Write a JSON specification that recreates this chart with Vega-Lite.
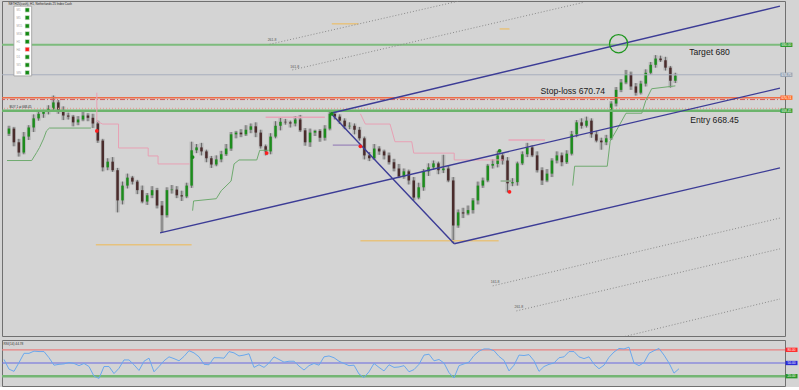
{
"$schema":"https://vega.github.io/schema/vega-lite/v6.json",
"background":"#d4d4d4",
"padding":0,
"spacing":2,
"config":{"view":{"stroke":"#707070","strokeWidth":1},"font":"Liberation Sans","axis":{"grid":false,"domainColor":"#606060","tickColor":"#606060","labelColor":"#303030","labelFontSize":3.5,"tickSize":2,"labelPadding":1}},
"datasets":{
"candles":[
{"i":0,"o":664.4,"h":665.8,"l":664.0,"c":665.3},{"i":1,"o":665.3,"h":665.6,"l":662.2,"c":662.9},{"i":2,"o":662.9,"h":663.5,"l":660.4,"c":661.1},{"i":3,"o":661.1,"h":664.7,"l":660.8,"c":663.9},{"i":4,"o":663.9,"h":665.9,"l":663.3,"c":665.5},{"i":5,"o":665.5,"h":667.8,"l":664.7,"c":667.1},{"i":6,"o":667.1,"h":668.4,"l":666.7,"c":667.9},{"i":7,"o":667.9,"h":668.6,"l":667.2,"c":668.3},{"i":8,"o":668.3,"h":669.4,"l":667.8,"c":668.8},{"i":9,"o":668.8,"h":671.1,"l":668.5,"c":669.9},
{"i":10,"o":669.9,"h":670.3,"l":667.9,"c":668.5},{"i":11,"o":668.5,"h":669.2,"l":666.8,"c":667.6},{"i":12,"o":667.6,"h":668.1,"l":666.9,"c":667.4},{"i":13,"o":667.4,"h":667.7,"l":665.7,"c":666.4},{"i":14,"o":666.4,"h":667.5,"l":665.9,"c":666.9},{"i":15,"o":666.9,"h":668.4,"l":666.6,"c":667.6},{"i":16,"o":667.6,"h":668.0,"l":666.6,"c":667.2},{"i":17,"o":667.2,"h":667.9,"l":665.4,"c":666.2},{"i":18,"o":666.2,"h":666.7,"l":662.8,"c":663.2},{"i":19,"o":663.2,"h":663.5,"l":657.8,"c":658.5},
{"i":20,"o":658.5,"h":660.1,"l":658.0,"c":659.5},{"i":21,"o":659.5,"h":660.3,"l":657.7,"c":658.0},{"i":22,"o":658.0,"h":658.4,"l":650.6,"c":652.7},{"i":23,"o":652.7,"h":656.0,"l":652.0,"c":655.3},{"i":24,"o":655.3,"h":657.4,"l":654.8,"c":656.7},{"i":25,"o":656.7,"h":657.0,"l":655.5,"c":656.0},{"i":26,"o":656.0,"h":656.3,"l":653.8,"c":654.5},{"i":27,"o":654.5,"h":655.3,"l":652.2,"c":652.5},{"i":28,"o":652.5,"h":654.0,"l":651.9,"c":653.6},{"i":29,"o":653.6,"h":655.2,"l":653.1,"c":654.5},
{"i":30,"o":654.5,"h":654.9,"l":651.3,"c":651.8},{"i":31,"o":651.8,"h":652.6,"l":647.1,"c":650.1},{"i":32,"o":650.1,"h":655.0,"l":649.7,"c":654.5},{"i":33,"o":654.5,"h":655.4,"l":653.9,"c":654.6},{"i":34,"o":654.6,"h":655.2,"l":653.1,"c":653.6},{"i":35,"o":653.6,"h":654.4,"l":652.6,"c":653.4},{"i":36,"o":653.4,"h":655.8,"l":653.1,"c":655.3},{"i":37,"o":655.3,"h":663.0,"l":654.9,"c":661.5},{"i":38,"o":661.5,"h":662.6,"l":661.0,"c":662.0},{"i":39,"o":662.0,"h":662.8,"l":660.6,"c":661.3},
{"i":40,"o":661.3,"h":661.6,"l":659.4,"c":660.1},{"i":41,"o":660.1,"h":660.5,"l":658.4,"c":659.0},{"i":42,"o":659.0,"h":660.6,"l":658.7,"c":659.9},{"i":43,"o":659.9,"h":661.4,"l":659.4,"c":660.8},{"i":44,"o":660.8,"h":662.6,"l":660.5,"c":661.8},{"i":45,"o":661.8,"h":664.7,"l":661.4,"c":664.3},{"i":46,"o":664.3,"h":664.9,"l":663.6,"c":664.6},{"i":47,"o":664.6,"h":665.2,"l":663.8,"c":664.3},{"i":48,"o":664.3,"h":665.9,"l":664.0,"c":665.1},{"i":49,"o":665.1,"h":666.2,"l":664.5,"c":665.7},
{"i":50,"o":665.7,"h":666.4,"l":663.8,"c":664.6},{"i":51,"o":664.6,"h":665.1,"l":661.8,"c":662.2},{"i":52,"o":662.2,"h":662.5,"l":660.6,"c":661.3},{"i":53,"o":661.3,"h":664.5,"l":660.8,"c":663.9},{"i":54,"o":663.9,"h":666.6,"l":663.6,"c":665.8},{"i":55,"o":665.8,"h":667.2,"l":665.0,"c":666.5},{"i":56,"o":666.5,"h":667.0,"l":666.0,"c":666.4},{"i":57,"o":666.4,"h":666.7,"l":665.5,"c":666.2},{"i":58,"o":666.2,"h":667.5,"l":665.7,"c":666.9},{"i":59,"o":666.9,"h":667.7,"l":664.7,"c":665.0},
{"i":60,"o":665.0,"h":665.4,"l":662.3,"c":662.9},{"i":61,"o":662.9,"h":665.3,"l":662.1,"c":664.6},{"i":62,"o":664.6,"h":665.1,"l":664.0,"c":664.9},{"i":63,"o":664.9,"h":665.2,"l":663.0,"c":663.7},{"i":64,"o":663.7,"h":665.9,"l":663.2,"c":665.3},{"i":65,"o":665.3,"h":668.4,"l":665.0,"c":667.9},{"i":66,"o":667.9,"h":668.2,"l":666.9,"c":667.4},{"i":67,"o":667.4,"h":667.8,"l":666.1,"c":666.7},{"i":68,"o":666.7,"h":667.1,"l":665.2,"c":665.7},{"i":69,"o":665.7,"h":666.4,"l":665.2,"c":665.8},
{"i":70,"o":665.8,"h":666.2,"l":664.3,"c":665.1},{"i":71,"o":665.1,"h":665.6,"l":663.2,"c":663.6},{"i":72,"o":663.6,"h":663.9,"l":659.9,"c":660.6},{"i":73,"o":660.6,"h":661.2,"l":659.6,"c":660.1},{"i":74,"o":660.1,"h":662.6,"l":659.8,"c":661.8},{"i":75,"o":661.8,"h":662.2,"l":660.7,"c":661.3},{"i":76,"o":661.3,"h":661.6,"l":659.9,"c":660.6},{"i":77,"o":660.6,"h":661.1,"l":659.0,"c":659.4},{"i":78,"o":659.4,"h":660.0,"l":657.8,"c":658.3},{"i":79,"o":658.3,"h":659.1,"l":656.6,"c":656.9},
{"i":80,"o":656.9,"h":658.3,"l":656.5,"c":657.8},{"i":81,"o":657.8,"h":658.1,"l":655.5,"c":656.2},{"i":82,"o":656.2,"h":656.8,"l":652.7,"c":653.2},{"i":83,"o":653.2,"h":655.8,"l":652.9,"c":655.0},{"i":84,"o":655.0,"h":658.2,"l":654.4,"c":657.8},{"i":85,"o":657.8,"h":659.2,"l":657.0,"c":658.5},{"i":86,"o":658.5,"h":659.7,"l":658.1,"c":659.2},{"i":87,"o":659.2,"h":659.5,"l":657.3,"c":658.0},{"i":88,"o":658.0,"h":660.7,"l":657.5,"c":658.3},{"i":89,"o":658.3,"h":658.8,"l":655.9,"c":656.2},
{"i":90,"o":656.2,"h":656.8,"l":645.2,"c":648.3},{"i":91,"o":648.3,"h":651.1,"l":647.9,"c":650.6},{"i":92,"o":650.6,"h":651.4,"l":649.6,"c":650.4},{"i":93,"o":650.4,"h":651.8,"l":650.1,"c":651.0},{"i":94,"o":651.0,"h":653.1,"l":650.4,"c":652.7},{"i":95,"o":652.7,"h":656.0,"l":652.0,"c":655.3},{"i":96,"o":655.3,"h":656.7,"l":654.9,"c":656.2},{"i":97,"o":656.2,"h":659.1,"l":655.9,"c":658.8},{"i":98,"o":658.8,"h":659.9,"l":658.3,"c":659.1},{"i":99,"o":659.1,"h":661.4,"l":658.5,"c":660.6},
{"i":100,"o":660.6,"h":661.0,"l":659.0,"c":659.7},{"i":101,"o":659.7,"h":660.3,"l":654.1,"c":655.7},{"i":102,"o":655.7,"h":656.6,"l":655.2,"c":655.9},{"i":103,"o":655.9,"h":659.5,"l":655.3,"c":659.2},{"i":104,"o":659.2,"h":661.3,"l":658.9,"c":660.8},{"i":105,"o":660.8,"h":662.8,"l":660.3,"c":662.0},{"i":106,"o":662.0,"h":662.4,"l":660.3,"c":660.6},{"i":107,"o":660.6,"h":661.3,"l":657.6,"c":658.0},{"i":108,"o":658.0,"h":658.5,"l":655.4,"c":656.2},{"i":109,"o":656.2,"h":658.2,"l":655.9,"c":657.4},
{"i":110,"o":657.4,"h":660.1,"l":656.8,"c":659.7},{"i":111,"o":659.7,"h":661.3,"l":659.2,"c":660.6},{"i":112,"o":660.6,"h":661.1,"l":658.7,"c":659.4},{"i":113,"o":659.4,"h":661.5,"l":659.1,"c":660.9},{"i":114,"o":660.9,"h":664.9,"l":660.6,"c":664.3},{"i":115,"o":664.3,"h":666.8,"l":663.8,"c":666.4},{"i":116,"o":666.4,"h":667.1,"l":665.3,"c":665.8},{"i":117,"o":665.8,"h":667.4,"l":665.5,"c":666.7},{"i":118,"o":666.7,"h":667.1,"l":663.7,"c":664.3},{"i":119,"o":664.3,"h":664.9,"l":662.9,"c":663.2},
{"i":120,"o":663.2,"h":663.7,"l":661.6,"c":662.9},{"i":121,"o":662.9,"h":664.2,"l":662.4,"c":663.6},{"i":122,"o":663.6,"h":670.1,"l":663.3,"c":669.7},{"i":123,"o":669.7,"h":672.6,"l":669.2,"c":672.1},{"i":124,"o":672.1,"h":674.0,"l":671.7,"c":673.4},{"i":125,"o":673.4,"h":675.6,"l":673.1,"c":674.9},{"i":126,"o":674.9,"h":675.3,"l":672.1,"c":672.7},{"i":127,"o":672.7,"h":673.3,"l":671.1,"c":671.6},{"i":128,"o":671.6,"h":673.7,"l":671.3,"c":673.2},{"i":129,"o":673.2,"h":675.7,"l":672.7,"c":675.1},
{"i":130,"o":675.1,"h":677.0,"l":674.8,"c":676.5},{"i":131,"o":676.5,"h":678.2,"l":676.0,"c":677.6},{"i":132,"o":677.6,"h":678.1,"l":677.0,"c":677.3},{"i":133,"o":677.3,"h":677.9,"l":675.5,"c":676.0},{"i":134,"o":676.0,"h":676.3,"l":672.5,"c":673.7},{"i":135,"o":673.7,"h":675.1,"l":673.3,"c":674.6}
],
"rsi":[
{"i":0,"v":58},{"i":1,"v":36},{"i":2,"v":31},{"i":3,"v":51},{"i":4,"v":72},{"i":5,"v":72},{"i":6,"v":77},{"i":7,"v":76},{"i":8,"v":76},{"i":9,"v":62},
{"i":10,"v":45},{"i":11,"v":47},{"i":12,"v":48},{"i":13,"v":51},{"i":14,"v":49},{"i":15,"v":44},{"i":16,"v":49},{"i":17,"v":42},{"i":18,"v":20},{"i":19,"v":15},
{"i":20,"v":42},{"i":21,"v":42},{"i":22,"v":26},{"i":23,"v":38},{"i":24,"v":57},{"i":25,"v":57},{"i":26,"v":46},{"i":27,"v":33},{"i":28,"v":54},{"i":29,"v":61},
{"i":30,"v":30},{"i":31,"v":42},{"i":32,"v":55},{"i":33,"v":64},{"i":34,"v":60},{"i":35,"v":55},{"i":36,"v":65},{"i":37,"v":78},{"i":38,"v":73},{"i":39,"v":64},
{"i":40,"v":47},{"i":41,"v":46},{"i":42,"v":62},{"i":43,"v":62},{"i":44,"v":61},{"i":45,"v":76},{"i":46,"v":73},{"i":47,"v":66},{"i":48,"v":68},{"i":49,"v":71},
{"i":50,"v":40},{"i":51,"v":46},{"i":52,"v":40},{"i":53,"v":50},{"i":54,"v":64},{"i":55,"v":58},{"i":56,"v":52},{"i":57,"v":54},{"i":58,"v":54},{"i":59,"v":43},
{"i":60,"v":34},{"i":61,"v":44},{"i":62,"v":49},{"i":63,"v":45},{"i":64,"v":64},{"i":65,"v":66},{"i":66,"v":62},{"i":67,"v":54},{"i":68,"v":49},{"i":69,"v":44},
{"i":70,"v":45},{"i":71,"v":25},{"i":72,"v":17},{"i":73,"v":30},{"i":74,"v":49},{"i":75,"v":40},{"i":76,"v":32},{"i":77,"v":46},{"i":78,"v":40},{"i":79,"v":41},
{"i":80,"v":44},{"i":81,"v":30},{"i":82,"v":35},{"i":83,"v":47},{"i":84,"v":68},{"i":85,"v":70},{"i":86,"v":55},{"i":87,"v":58},{"i":88,"v":50},{"i":89,"v":28},
{"i":90,"v":16},{"i":91,"v":44},{"i":92,"v":48},{"i":93,"v":52},{"i":94,"v":67},{"i":95,"v":77},{"i":96,"v":82},{"i":97,"v":82},{"i":98,"v":78},{"i":99,"v":65},
{"i":100,"v":56},{"i":101,"v":32},{"i":102,"v":45},{"i":103,"v":68},{"i":104,"v":67},{"i":105,"v":69},{"i":106,"v":55},{"i":107,"v":31},{"i":108,"v":42},{"i":109,"v":47},
{"i":110,"v":50},{"i":111,"v":62},{"i":112,"v":64},{"i":113,"v":76},{"i":114,"v":76},{"i":115,"v":64},{"i":116,"v":60},{"i":117,"v":64},{"i":118,"v":47},{"i":119,"v":37},
{"i":120,"v":45},{"i":121,"v":63},{"i":122,"v":75},{"i":123,"v":83},{"i":124,"v":82},{"i":125,"v":86},{"i":126,"v":50},{"i":127,"v":44},{"i":128,"v":51},{"i":129,"v":72},
{"i":130,"v":78},{"i":131,"v":83},{"i":132,"v":68},{"i":133,"v":50},{"i":134,"v":27},{"i":135,"v":37}
],
"levels":[{"name":"target","p":680},{"name":"bid","p":674.75},{"name":"stop","p":670.74},{"name":"stop2","p":670.4},{"name":"dots","p":668.85},{"name":"entry","p":668.45}],
"boxes":[{"name":"target","p":680,"lab":"680.00"},{"name":"bid","p":674.75,"lab":"674.75"},{"name":"stop","p":670.74,"lab":"670.74"},{"name":"entry","p":668.45,"lab":"668.45"}],
"osc":[{"name":"80","v":80,"lab":"80.00"},{"name":"50","v":50,"lab":"50.00"},{"name":"20","v":20,"lab":"20.00"}],
"channel":[{"g":"upper","i":65.2,"p":668.0},{"g":"upper","i":156.2,"p":686.8},{"g":"middle","i":30.6,"p":647.0},{"g":"middle","i":156.2,"p":672.4},{"g":"lower","i":90.2,"p":645.1},{"g":"lower","i":156.2,"p":658.4},{"g":"diag","i":65.2,"p":668.0},{"g":"diag","i":90.2,"p":645.1}],
"fibo":[{"g":"F1","i":52.8,"p":680.1},{"g":"F1","i":91.2,"p":687.7},{"g":"F2","i":57.4,"p":675.6},{"g":"F2","i":116.6,"p":687.5},{"g":"F3","i":98,"p":637.7},{"g":"F3","i":156.2,"p":649.6},{"g":"F4","i":102.8,"p":633.3},{"g":"F4","i":156.2,"p":644.2},{"g":"F5","i":124.2,"p":628.7},{"g":"F5","i":156.2,"p":635.4}],
"fiboLab":[{"t":"261.8","i":52.4,"p":680.8},{"t":"161.8","i":57,"p":676.2},{"t":"161.8","i":97.6,"p":638.4},{"t":"261.8","i":102.4,"p":634.0}],
"segs":[{"kind":"tan","i":17.6,"i2":37,"p":644.9},{"kind":"tan","i":71.2,"i2":99.2,"p":645.6},{"kind":"tan","i":65.4,"i2":70.8,"p":683.7},{"kind":"tan","i":99.4,"i2":101.4,"p":682.8},{"kind":"pink","i":52,"i2":64,"p":667.3},{"kind":"pink","i":101.2,"i2":108.6,"p":663.3},{"kind":"violet","i":65.6,"i2":71.2,"p":662.4},{"kind":"sage","i":99.6,"i2":101.8,"p":656.1}],
"trail":[
{"g":"P1","kind":"pink","n":0,"i":17.8,"p":671.6},{"g":"P1","kind":"pink","n":1,"i":17.8,"p":666.6},{"g":"P1","kind":"pink","n":2,"i":19,"p":666.1},{"g":"P1","kind":"pink","n":3,"i":22.2,"p":666.1},{"g":"P1","kind":"pink","n":4,"i":22.2,"p":661.9},{"g":"P1","kind":"pink","n":5,"i":28.2,"p":661.9},{"g":"P1","kind":"pink","n":6,"i":28.2,"p":660.5},{"g":"P1","kind":"pink","n":7,"i":30.2,"p":660.5},{"g":"P1","kind":"pink","n":8,"i":30.2,"p":659.1},{"g":"P1","kind":"pink","n":9,"i":36.6,"p":659.1},
{"g":"P3","kind":"pink","n":0,"i":71.2,"p":667.9},{"g":"P3","kind":"pink","n":1,"i":72.2,"p":666.1},{"g":"P3","kind":"pink","n":2,"i":77.2,"p":666.1},{"g":"P3","kind":"pink","n":3,"i":78.2,"p":663.0},{"g":"P3","kind":"pink","n":4,"i":81.6,"p":663.0},{"g":"P3","kind":"pink","n":5,"i":82,"p":661.0},{"g":"P3","kind":"pink","n":6,"i":90.2,"p":661.0},{"g":"P3","kind":"pink","n":7,"i":90.2,"p":659.8},{"g":"P3","kind":"pink","n":8,"i":100.2,"p":659.8},
{"g":"G1","kind":"green","n":0,"i":-0.4,"p":659.7},{"g":"G1","kind":"green","n":1,"i":4.6,"p":659.7},{"g":"G1","kind":"green","n":2,"i":5.6,"p":661.1},{"g":"G1","kind":"green","n":3,"i":6.2,"p":662.0},{"g":"G1","kind":"green","n":4,"i":7,"p":663.5},{"g":"G1","kind":"green","n":5,"i":7.6,"p":664.9},{"g":"G1","kind":"green","n":6,"i":8.2,"p":665.4},{"g":"G1","kind":"green","n":7,"i":16.6,"p":665.4},
{"g":"G2","kind":"green","n":0,"i":37.2,"p":650.9},{"g":"G2","kind":"green","n":1,"i":37.4,"p":652.6},{"g":"G2","kind":"green","n":2,"i":42,"p":653.0},{"g":"G2","kind":"green","n":3,"i":43,"p":654.4},{"g":"G2","kind":"green","n":4,"i":45,"p":656.1},{"g":"G2","kind":"green","n":5,"i":45.6,"p":659.1},{"g":"G2","kind":"green","n":6,"i":46.6,"p":659.8},{"g":"G2","kind":"green","n":7,"i":50.2,"p":659.8},{"g":"G2","kind":"green","n":8,"i":50.8,"p":661.5},{"g":"G2","kind":"green","n":9,"i":52.6,"p":661.5},
{"g":"G3","kind":"green","n":0,"i":114.2,"p":655.3},{"g":"G3","kind":"green","n":1,"i":114.6,"p":658.7},{"g":"G3","kind":"green","n":2,"i":121.2,"p":658.7},{"g":"G3","kind":"green","n":3,"i":121.8,"p":663.1},{"g":"G3","kind":"green","n":4,"i":123.6,"p":665.8},{"g":"G3","kind":"green","n":5,"i":125,"p":668.0},{"g":"G3","kind":"green","n":6,"i":128.2,"p":668.0},{"g":"G3","kind":"green","n":7,"i":129,"p":670.2},{"g":"G3","kind":"green","n":8,"i":130.2,"p":672.3},{"g":"G3","kind":"green","n":9,"i":135,"p":672.8}
],
"signals":[{"side":"sell","i":17.8,"p":664.9},{"side":"sell","i":52.2,"p":661.0},{"side":"sell","i":71.2,"p":662.2},{"side":"sell","i":101.4,"p":654.2},{"side":"buy","i":37.2,"p":660.3},{"side":"buy","i":65.4,"p":667.9},{"side":"buy","i":99.4,"p":661.4}],
"marker":[{"i":123.5,"p":680.2}],
"notes":[{"t":"Target 680","i":137.8,"p":678.8},{"t":"Stop-loss 670.74","i":107.7,"p":671.9},{"t":"Entry 668.45","i":138,"p":666.8}],
"small":[{"t":"NETH25(cash), H1, Netherlands 25 Index Cash","i":-0.1,"p":687.15},{"t":"BUY 1 at 668.45","i":0.1,"p":669.1}],
"tfpanel":[{"i":1,"i2":4.6,"p":686.8,"p2":674.55}],
"tf":[{"tf":"M1","p":686.12,"st":"up"},{"tf":"M5","p":684.77,"st":"up"},{"tf":"M15","p":683.31,"st":"up"},{"tf":"M30","p":681.96,"st":"up"},{"tf":"H1","p":680.56,"st":"up"},{"tf":"H4","p":679.22,"st":"down"},{"tf":"D1","p":677.87,"st":"up"},{"tf":"W1","p":676.47,"st":"up"},{"tf":"MN","p":675.12,"st":"up"}],
"oscText":[{"t":"RSI(14) 44.78","i":-0.1,"v":94}]
},
"vconcat":[
{
"width":783,"height":335,
"resolve":{"scale":{"color":"independent"}},
"layer":[
{"data":{"name":"candles"},"mark":{"type":"bar","width":4,"color":"#b6b6b6"},
 "encoding":{"x":{"field":"i","type":"quantitative","scale":{"domain":[-0.4,156.2],"nice":false,"zero":false},"axis":null},
 "y":{"field":"l","type":"quantitative","scale":{"domain":[628.9,687.7],"nice":false,"zero":false},"title":null,
  "axis":{"orient":"right","format":".2f","values":[687.0,685.25,683.5,681.75,680.0,678.25,676.5,674.75,673.0,671.25,669.5,667.75,666.0,664.25,662.5,660.75,659.0,657.25,655.5,653.75,652.0,650.25,648.5,646.75,645.0,643.25,641.5,639.75,638.0,636.25,634.5,632.75,631.0,629.25]}},
 "y2":{"field":"h"}}},
{"data":{"name":"candles"},"mark":{"type":"rule","color":"#6a6a6a","strokeWidth":1},
 "encoding":{"x":{"field":"i","type":"quantitative","axis":null},"y":{"field":"l","type":"quantitative","axis":null},"y2":{"field":"h"}}},
{"data":{"name":"candles"},"mark":{"type":"bar","width":2.5},
 "encoding":{"x":{"field":"i","type":"quantitative","axis":null},"y":{"field":"o","type":"quantitative","axis":null},"y2":{"field":"c"},
 "color":{"condition":{"test":"datum.c >= datum.o","value":"#1d8c1d"},"value":"#4a2c2c"}}},
{"data":{"name":"levels"},"transform":[{"filter":"datum.name == 'target'"}],"mark":{"type":"rule","color":"#7dbb7d","strokeWidth":2},"encoding":{"y":{"field":"p","type":"quantitative","axis":null}}},
{"data":{"name":"levels"},"transform":[{"filter":"datum.name == 'bid'"}],"mark":{"type":"rule","color":"#a7adbd","strokeWidth":1},"encoding":{"y":{"field":"p","type":"quantitative","axis":null}}},
{"data":{"name":"levels"},"transform":[{"filter":"datum.name == 'stop'"}],"mark":{"type":"rule","color":"#ee6d48","strokeWidth":1.5},"encoding":{"y":{"field":"p","type":"quantitative","axis":null}}},
{"data":{"name":"levels"},"transform":[{"filter":"datum.name == 'stop2'"}],"mark":{"type":"rule","color":"#d65a5a","strokeWidth":1,"strokeDash":[5,2,1,2]},"encoding":{"y":{"field":"p","type":"quantitative","axis":null}}},
{"data":{"name":"levels"},"transform":[{"filter":"datum.name == 'dots'"}],"mark":{"type":"rule","color":"#e2a49a","strokeWidth":1.5,"strokeDash":[1,2]},"encoding":{"y":{"field":"p","type":"quantitative","axis":null}}},
{"data":{"name":"levels"},"transform":[{"filter":"datum.name == 'entry'"}],"mark":{"type":"rule","color":"#6cb46c","strokeWidth":2.5},"encoding":{"y":{"field":"p","type":"quantitative","axis":null}}},
{"data":{"name":"segs"},"mark":{"type":"rule","strokeWidth":1.5},
 "encoding":{"x":{"field":"i","type":"quantitative","axis":null},"x2":{"field":"i2"},"y":{"field":"p","type":"quantitative","axis":null},
 "color":{"field":"kind","type":"nominal","scale":{"domain":["tan","pink","violet","sage"],"range":["#e6c27e","#e8a4b8","#a493bd","#8fae8f"]},"legend":null}}},
{"data":{"name":"trail"},"mark":{"type":"line","strokeWidth":1,"clip":true},
 "encoding":{"x":{"field":"i","type":"quantitative","axis":null},"y":{"field":"p","type":"quantitative","axis":null},"detail":{"field":"g"},"order":{"field":"n","type":"quantitative"},
 "color":{"field":"kind","type":"nominal","scale":{"domain":["pink","green"],"range":["#e8a0b4","#6faa6f"]},"legend":null}}},
{"data":{"name":"fibo"},"mark":{"type":"line","color":"#8a8a8a","strokeWidth":1,"strokeDash":[1,2],"clip":true},
 "encoding":{"x":{"field":"i","type":"quantitative","axis":null},"y":{"field":"p","type":"quantitative","axis":null},"detail":{"field":"g"}}},
{"data":{"name":"fiboLab"},"mark":{"type":"text","fontSize":3.5,"color":"#555555","align":"left","baseline":"middle"},
 "encoding":{"x":{"field":"i","type":"quantitative","axis":null},"y":{"field":"p","type":"quantitative","axis":null},"text":{"field":"t"}}},
{"data":{"name":"channel"},"mark":{"type":"line","color":"#3c3c96","strokeWidth":1.4,"clip":true},
 "encoding":{"x":{"field":"i","type":"quantitative","axis":null},"y":{"field":"p","type":"quantitative","axis":null},"detail":{"field":"g"}}},
{"data":{"name":"signals"},"mark":{"type":"point","filled":true,"size":14,"opacity":1},
 "encoding":{"x":{"field":"i","type":"quantitative","axis":null},"y":{"field":"p","type":"quantitative","axis":null},
 "color":{"field":"side","type":"nominal","scale":{"domain":["sell","buy"],"range":["#ff1e1e","#1a8a1a"]},"legend":null}}},
{"data":{"name":"marker"},"mark":{"type":"point","shape":"circle","filled":false,"size":330,"color":"#1e961e","strokeWidth":1.3,"opacity":1},
 "encoding":{"x":{"field":"i","type":"quantitative","axis":null},"y":{"field":"p","type":"quantitative","axis":null}}},
{"data":{"name":"notes"},"mark":{"type":"text","fontSize":8.6,"color":"#1a1a1a","align":"left","baseline":"middle","font":"Liberation Sans"},
 "encoding":{"x":{"field":"i","type":"quantitative","axis":null},"y":{"field":"p","type":"quantitative","axis":null},"text":{"field":"t"}}},
{"data":{"name":"tfpanel"},"mark":{"type":"rect","fill":"#ffffff","stroke":"#9a9a9a","strokeWidth":0.8},
 "encoding":{"x":{"field":"i","type":"quantitative","axis":null},"x2":{"field":"i2"},"y":{"field":"p","type":"quantitative","axis":null},"y2":{"field":"p2"}}},
{"data":{"name":"tf"},"mark":{"type":"text","fontSize":3,"color":"#a8a8a8","align":"left","baseline":"middle"},
 "encoding":{"x":{"datum":1.5,"type":"quantitative","axis":null},"y":{"field":"p","type":"quantitative","axis":null},"text":{"field":"tf"}}},
{"data":{"name":"tf"},"mark":{"type":"point","shape":"square","filled":true,"size":18,"stroke":"#e8e8e8","strokeWidth":0.6,"opacity":1},
 "encoding":{"x":{"datum":3.7,"type":"quantitative","axis":null},"y":{"field":"p","type":"quantitative","axis":null},
 "color":{"field":"st","type":"nominal","scale":{"domain":["up","down"],"range":["#138a13","#ff1a1a"]},"legend":null}}},
{"data":{"name":"small"},"mark":{"type":"text","fontSize":3,"color":"#262626","align":"left","baseline":"middle"},
 "encoding":{"x":{"field":"i","type":"quantitative","axis":null},"y":{"field":"p","type":"quantitative","axis":null},"text":{"field":"t"}}},
{"data":{"name":"boxes"},"mark":{"type":"point","shape":"M-1,-0.36L1,-0.36L1,0.36L-1,0.36Z","filled":true,"size":144,"opacity":1,"clip":false},
 "encoding":{"x":{"datum":157.5,"type":"quantitative","axis":null},"y":{"field":"p","type":"quantitative","axis":null},
 "color":{"field":"name","type":"nominal","scale":{"domain":["target","bid","stop","entry"],"range":["#2e9a2e","#98a4b4","#ff6a2a","#2e9a2e"]},"legend":null}}},
{"data":{"name":"boxes"},"mark":{"type":"text","fontSize":3.2,"color":"#ffffff","align":"center","baseline":"middle","clip":false},
 "encoding":{"x":{"datum":157.5,"type":"quantitative","axis":null},"y":{"field":"p","type":"quantitative","axis":null},"text":{"field":"lab"}}}
]
},
{
"width":783,"height":46,
"resolve":{"scale":{"color":"independent"}},
"layer":[
{"data":{"name":"osc"},"transform":[{"filter":"datum.name == '80'"}],"mark":{"type":"rule","color":"#e98080","strokeWidth":1.2},
 "encoding":{"y":{"field":"v","type":"quantitative","scale":{"domain":[-2.3,102.3],"nice":false,"zero":false},"title":null,"axis":{"orient":"right","values":[0,100],"format":".2f"}}}},
{"data":{"name":"osc"},"transform":[{"filter":"datum.name == '50'"}],"mark":{"type":"rule","color":"#6868e0","strokeWidth":1.2},
 "encoding":{"y":{"field":"v","type":"quantitative","axis":null}}},
{"data":{"name":"osc"},"transform":[{"filter":"datum.name == '20'"}],"mark":{"type":"rule","color":"#74b674","strokeWidth":2.5},
 "encoding":{"y":{"field":"v","type":"quantitative","axis":null}}},
{"data":{"name":"rsi"},"mark":{"type":"line","color":"#6aa8ee","strokeWidth":1},
 "encoding":{"x":{"field":"i","type":"quantitative","scale":{"domain":[-0.4,156.2],"nice":false,"zero":false},"title":null,
  "axis":{"values":[0,4,8,12,16,20,24,28,32,36,40,44,48,52,56,60,64,68,72,76,80,84,88,92,96,100,104,108,112,116,120,124,128,132],
  "labelExpr":"['24 Feb 2021','24 Feb 18:00','24 Feb 22:00','25 Feb 12:00','25 Feb 16:00','25 Feb 20:00','26 Feb 10:00','26 Feb 14:00','26 Feb 18:00','26 Feb 22:00','1 Mar 12:00','1 Mar 16:00','1 Mar 20:00','2 Mar 10:00','2 Mar 14:00','2 Mar 18:00','2 Mar 22:00','3 Mar 12:00','3 Mar 16:00','3 Mar 20:00','4 Mar 10:00','4 Mar 14:00','4 Mar 18:00','4 Mar 22:00','5 Mar 12:00','5 Mar 16:00','5 Mar 20:00','8 Mar 10:00','8 Mar 14:00','8 Mar 18:00','8 Mar 22:00','9 Mar 12:00','9 Mar 16:00','9 Mar 20:00'][round(datum.value/4)]",
  "labelAlign":"left","labelFlush":false,"labelOverlap":false,"labelBound":false,"labelAngle":0}},
 "y":{"field":"v","type":"quantitative","axis":null}}},
{"data":{"name":"osc"},"mark":{"type":"point","shape":"M-1,-0.36L1,-0.36L1,0.36L-1,0.36Z","filled":true,"size":144,"opacity":1,"clip":false},
 "encoding":{"x":{"datum":157.5,"type":"quantitative","axis":null},"y":{"field":"v","type":"quantitative","axis":null},
 "color":{"field":"name","type":"nominal","scale":{"domain":["80","50","20"],"range":["#ff2a2a","#2a2ad8","#2a962a"]},"legend":null}}},
{"data":{"name":"osc"},"mark":{"type":"text","fontSize":3.2,"color":"#ffffff","align":"center","baseline":"middle","clip":false},
 "encoding":{"x":{"datum":157.5,"type":"quantitative","axis":null},"y":{"field":"v","type":"quantitative","axis":null},"text":{"field":"lab"}}},
{"data":{"name":"oscText"},"mark":{"type":"text","fontSize":3.2,"color":"#303030","align":"left","baseline":"middle"},
 "encoding":{"x":{"field":"i","type":"quantitative","axis":null},"y":{"field":"v","type":"quantitative","axis":null},"text":{"field":"t"}}}
]
}
]
}
